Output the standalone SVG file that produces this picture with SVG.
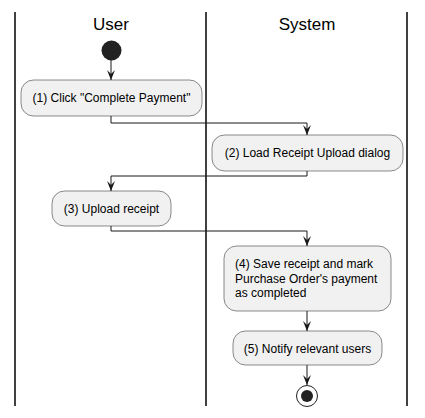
<svg xmlns="http://www.w3.org/2000/svg" width="425" height="418" viewBox="0 0 425 418">
<defs>
<style>
.lane{stroke:#000;stroke-width:1.5;fill:none}
.title{font-family:"Liberation Sans",Arial,sans-serif;font-size:17px;fill:#000;text-anchor:middle}
.box{fill:#F1F1F1;stroke:#181818;stroke-width:0.5}
.t{font-family:"Liberation Sans",Arial,sans-serif;font-size:12px;fill:#000}
.c{text-anchor:middle}
.edge{stroke:#181818;stroke-width:1;fill:none;marker-end:url(#ah)}
</style>
<marker id="ah" markerWidth="12" markerHeight="10" viewBox="-11 -5 12 10" refX="0" refY="0" markerUnits="userSpaceOnUse" orient="auto">
<path d="M-10,-4 L0,0 L-10,4 L-6,0 Z" fill="#181818"/>
</marker>
</defs>
<g id="lanes">
<line class="lane" x1="15" y1="12" x2="15" y2="406"/>
<line class="lane" x1="206" y1="12" x2="206" y2="406"/>
<line class="lane" x1="407" y1="12" x2="407" y2="406"/>
<text class="title" x="111" y="30">User</text>
<text class="title" x="307" y="30">System</text>
</g>
<g id="connectors">
<path class="edge" d="M111,60 L111,80"/>
<path class="edge" d="M111,116 L111,123 L307,123 L307,135"/>
<path class="edge" d="M307,171 L307,176 L111,176 L111,191"/>
<path class="edge" d="M111,226 L111,231 L307,231 L307,246"/>
<path class="edge" d="M307,311 L307,331"/>
<path class="edge" d="M307,365 L307,385"/>
</g>
<g id="start">
<circle cx="111.5" cy="50.5" r="10" fill="#222"/>
</g>
<g id="n1">
<rect class="box" x="21" y="80" width="181" height="36" rx="12.5"/>
<text class="t c" x="111.5" y="102">(1) Click "Complete Payment"</text>
</g>
<g id="n2">
<rect class="box" x="212" y="135" width="191" height="36" rx="12.5"/>
<text class="t c" x="307.5" y="157">(2) Load Receipt Upload dialog</text>
</g>
<g id="n3">
<rect class="box" x="52" y="191" width="119" height="35" rx="12.5"/>
<text class="t c" x="111.5" y="213">(3) Upload receipt</text>
</g>
<g id="n4">
<rect class="box" x="224" y="246" width="167" height="65" rx="12.5"/>
<text class="t" x="235" y="268">(4) Save receipt and mark</text>
<text class="t" x="235" y="282.5">Purchase Order's payment</text>
<text class="t" x="235" y="297">as completed</text>
</g>
<g id="n5">
<rect class="box" x="233" y="331" width="149" height="34" rx="12.5"/>
<text class="t c" x="307.5" y="353">(5) Notify relevant users</text>
</g>
<g id="end">
<circle cx="307" cy="396" r="10.5" fill="#fff" stroke="#222" stroke-width="1"/>
<circle cx="307" cy="396" r="6" fill="#222"/>
</g>
</svg>
